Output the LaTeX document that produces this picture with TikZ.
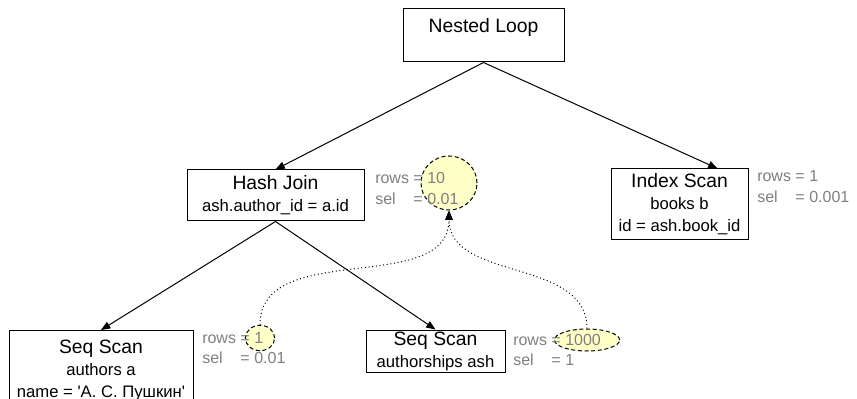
\documentclass[tikz,border=0pt]{standalone}
\usepackage{fontspec}
\setmainfont{Liberation Sans}[Ligatures=TeXOff]
\usetikzlibrary{arrows.meta,shapes.geometric}
\definecolor{statgray}{HTML}{7F7F7F}
\definecolor{hlyellow}{HTML}{FFFFC8}
\newcommand{\opfont}{\fontsize{14.5}{16.5}\selectfont}
\newcommand{\detfont}{\fontsize{12.5}{16}\selectfont}
\newcommand{\statfont}{\fontsize{12}{15.5}\selectfont}

\begin{document}
\begin{tikzpicture}
  [x=0.75pt,y=-0.75pt,
   op/.style={draw,line width=0.75pt,align=center,inner sep=0pt,font=\opfont},
   stat/.style={anchor=base west,inner sep=0pt,text=statgray,font=\statfont},
   est/.style={ellipse,draw,dash pattern=on 3pt off 2pt,line width=0.75pt,fill=hlyellow,inner sep=0pt},
   plan/.style={line width=0.75pt,-{Triangle[length=7pt,width=5.5pt]}},
   feed/.style={dotted,line width=0.75pt,-{Triangle[length=7pt,width=5.5pt]}}]

  \useasboundingbox (0,0) rectangle (857,399);

  \node[op,minimum width=120.75pt,text height=18pt,text depth=21.75pt] (nl) at (483.5,35.5) {Nested Loop};
  \node[op,minimum width=132.75pt,minimum height=38.25pt] (hj) at (275.5,195.5) {Hash Join\\\detfont ash.author\_id = a.id};
  \node[op,minimum width=102.75pt,minimum height=53.25pt] (is) at (679.5,204.5) {Index Scan\\\detfont books b\\\detfont id = ash.book\_id};
  \node[op,minimum width=138pt,minimum height=60pt,anchor=north] (ssa) at (101,330) {Seq Scan\\\detfont authors a\\\detfont name = 'А. С. Пушкин'};
  \node[op,minimum width=104.25pt,minimum height=31.5pt] (ssb) at (435.5,351) {Seq Scan\\\detfont authorships ash};

  \node[est,minimum width=42pt,minimum height=40.5pt] (hjrows) at (449,183) {};
  \node[est,minimum width=22pt,minimum height=19pt] (ssarows) at (260,338) {};
  \node[est,minimum width=49pt,minimum height=16.5pt] (ssbrows) at (587,340) {};

  \node[stat] (hjstat) at (375,184) {\begin{tabular}[t]{@{}l@{ }l@{}}rows&= 10\\sel&= 0.01\end{tabular}};
  \node[stat] (isstat) at (757,182) {\begin{tabular}[t]{@{}l@{ }l@{}}rows&= 1\\sel&= 0.001\end{tabular}};
  \node[stat] (ssastat) at (202,343) {\begin{tabular}[t]{@{}l@{ }l@{}}rows&= 1\\sel&= 0.01\end{tabular}};
  \node[stat] (ssbstat) at (513,345) {\begin{tabular}[t]{@{}l@{ }l@{}}rows&= 1000\\sel&= 1\end{tabular}};

  \foreach \from/\to in {nl/hj,hj/ssa,hj/ssb}
    \draw[plan] (\from.south) -- (\to.north);
  \draw[plan] (nl.south) -- ([xshift=28.5pt]is.north);

  \foreach \from in {ssarows,ssbrows}
    \draw[feed] (\from.north) to[out=90,in=-90] (hjrows.south);
\end{tikzpicture}
\end{document}
